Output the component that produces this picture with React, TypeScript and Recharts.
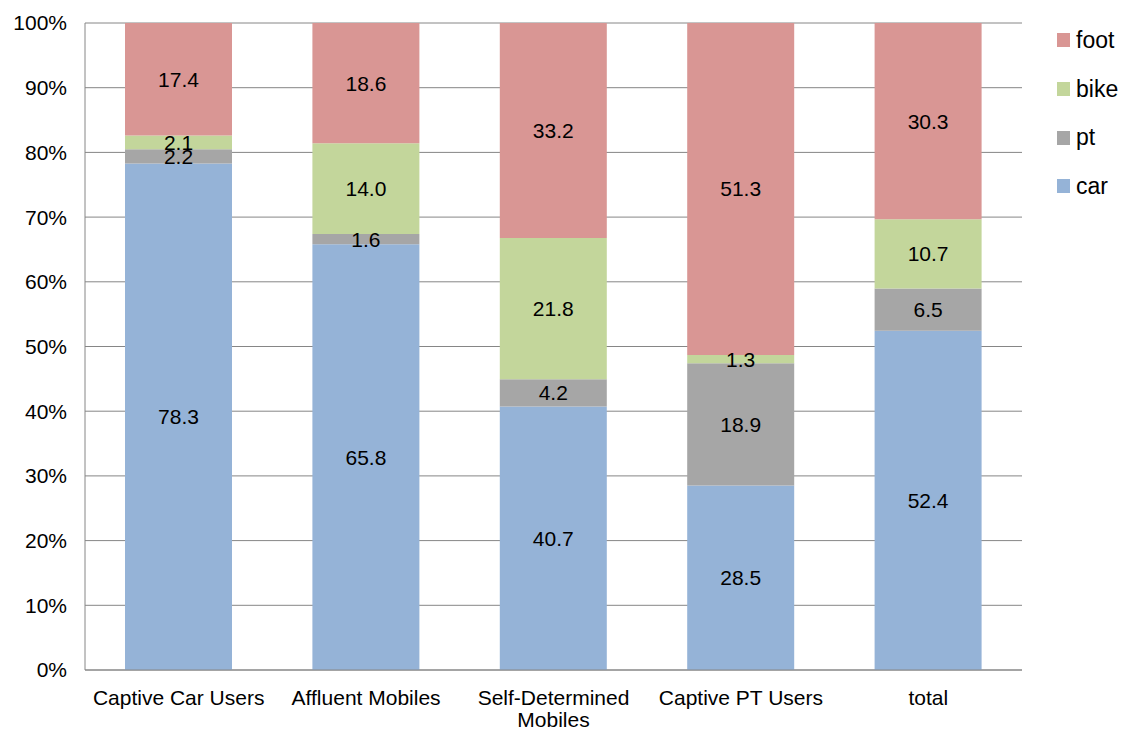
import { Bar, BarChart, CartesianGrid, LabelList, XAxis, YAxis } from 'recharts';

const groups = ["Captive Car Users", "Affluent Mobiles", "Self-Determined Mobiles", "Captive PT Users", "total"];
const car = [78.3, 65.8, 40.7, 28.5, 52.4];
const pt = [2.2, 1.6, 4.2, 18.9, 6.5];
const bike = [2.1, 14.0, 21.8, 1.3, 10.7];
const foot = [17.4, 18.6, 33.2, 51.3, 30.3];
const yTicks = [0, 0.1, 0.2, 0.3, 0.4, 0.5, 0.6, 0.7, 0.8, 0.9, 1];

const series = [
  { key: "car", color: "#95b3d7" },
  { key: "pt", color: "#a6a6a6" },
  { key: "bike", color: "#c3d69b" },
  { key: "foot", color: "#d99694" },
];

const data = groups.map((name, i) => ({ name, car: car[i], pt: pt[i], bike: bike[i], foot: foot[i] }));

const font = '"Liberation Sans", Arial, sans-serif';

// long names go on two lines, split at the last space
const XTick = (props: any) => {
  const { x, y, payload } = props;
  const label: string = payload.value;
  let lines = [label];
  if (label.length > 18) {
    const cut = label.lastIndexOf(' ');
    lines = [label.slice(0, cut), label.slice(cut + 1)];
  }
  return (
    <text x={x} y={y + 35} textAnchor="middle" fontSize={21} fill="#000" fontFamily={font}>
      {lines.map((l, i) => (
        <tspan key={i} x={x} dy={i === 0 ? 0 : 22}>{l}</tspan>
      ))}
    </text>
  );
};

export default function App() {
  return (
    <div style={{ position: 'absolute', left: 0, top: 0, width: 1126, height: 731 }}>
      <BarChart width={1126} height={731} data={data} stackOffset="expand" barSize={107}
        margin={{ top: 23, right: 104, bottom: 0, left: 0 }}>
        <CartesianGrid vertical={false} stroke="#868686" />
        <XAxis dataKey="name" height={61} tick={<XTick />} tickLine={false} tickSize={0} tickMargin={0}
          stroke="#868686" interval={0} />
        <YAxis width={85} domain={[0, 1]} ticks={yTicks} tickFormatter={(v: number) => `${Math.round(v * 100)}%`}
          tickLine={false} tickSize={0} tickMargin={18} stroke="#868686"
          tick={{ fill: '#000', fontSize: 21, fontFamily: font }} />
        {series.map((s) => (
          <Bar key={s.key} dataKey={s.key} stackId="a" fill={s.color} isAnimationActive={false}>
            <LabelList dataKey={s.key} position="center" fill="#000" fontSize={21} fontFamily={font}
              formatter={(v: any) => Number(v).toFixed(1)} />
          </Bar>
        ))}
      </BarChart>
      <div style={{ position: 'absolute', left: 1057, top: 16, fontFamily: font, fontSize: 23, color: '#000' }}>
        {[...series].reverse().map((s) => (
          <div key={s.key} style={{ display: 'flex', alignItems: 'center', height: 48.7 }}>
            <span style={{ width: 13, height: 14, background: s.color, display: 'inline-block', marginRight: 6 }} />
            <span>{s.key}</span>
          </div>
        ))}
      </div>
    </div>
  );
}
